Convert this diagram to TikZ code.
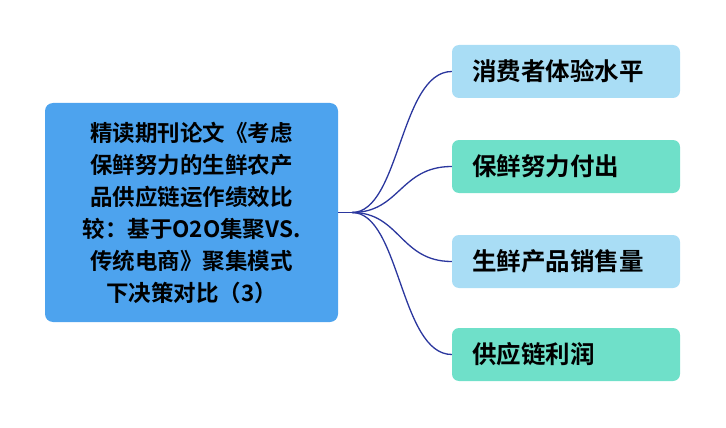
\documentclass[tikz,border=0pt]{standalone}
\usepackage{fontspec}
\newfontfamily\cjk{Noto Sans CJK SC}[BoldFont={Noto Sans CJK SC Bold}]
\definecolor{mainblue}{HTML}{4DA3EE}
\definecolor{lightblue}{HTML}{A9DDF5}
\definecolor{mint}{HTML}{6FE0C9}
\definecolor{linkblue}{HTML}{2B379E}
\begin{document}
\begin{tikzpicture}[x=1pt,y=-1pt,
  leaf/.style={rounded corners=7pt,minimum width=228pt,minimum height=53pt,text width=188pt,align=left,font=\cjk\bfseries\fontsize{24.5}{28}\selectfont,inner sep=0pt},
  link/.style={draw=linkblue,line width=1.3pt}]
\useasboundingbox (0,0) rectangle (726,428);
\node[fill=mainblue,rounded corners=8pt,minimum width=293pt,minimum height=219pt,text width=270pt,align=center,font=\cjk\bfseries\fontsize{22.5}{32}\selectfont,inner sep=0pt] (root) at (191.5,212.5) {精读期刊论文《考虑\\保鲜努力的生鲜农产\\品供应链运作绩效比\\较：基于O2O集聚VS.\\传统电商》聚集模式\\下决策对比（3）};
\node[leaf,fill=lightblue] (a) at (566,71.5) {消费者体验水平};
\node[leaf,fill=mint] (b) at (566,166.5) {保鲜努力付出};
\node[leaf,fill=lightblue] (c) at (566,261.5) {生鲜产品销售量};
\node[leaf,fill=mint] (d) at (566,354.5) {供应链利润};
\coordinate (j) at (352,212.5);
\draw[link] (root.east) -- (j);
\foreach \t in {a,b,c,d}{
  \draw[link] (j) .. controls (400,212.5) and (400,0 |- \t.west) .. (\t.west);
}
\end{tikzpicture}
\end{document}
